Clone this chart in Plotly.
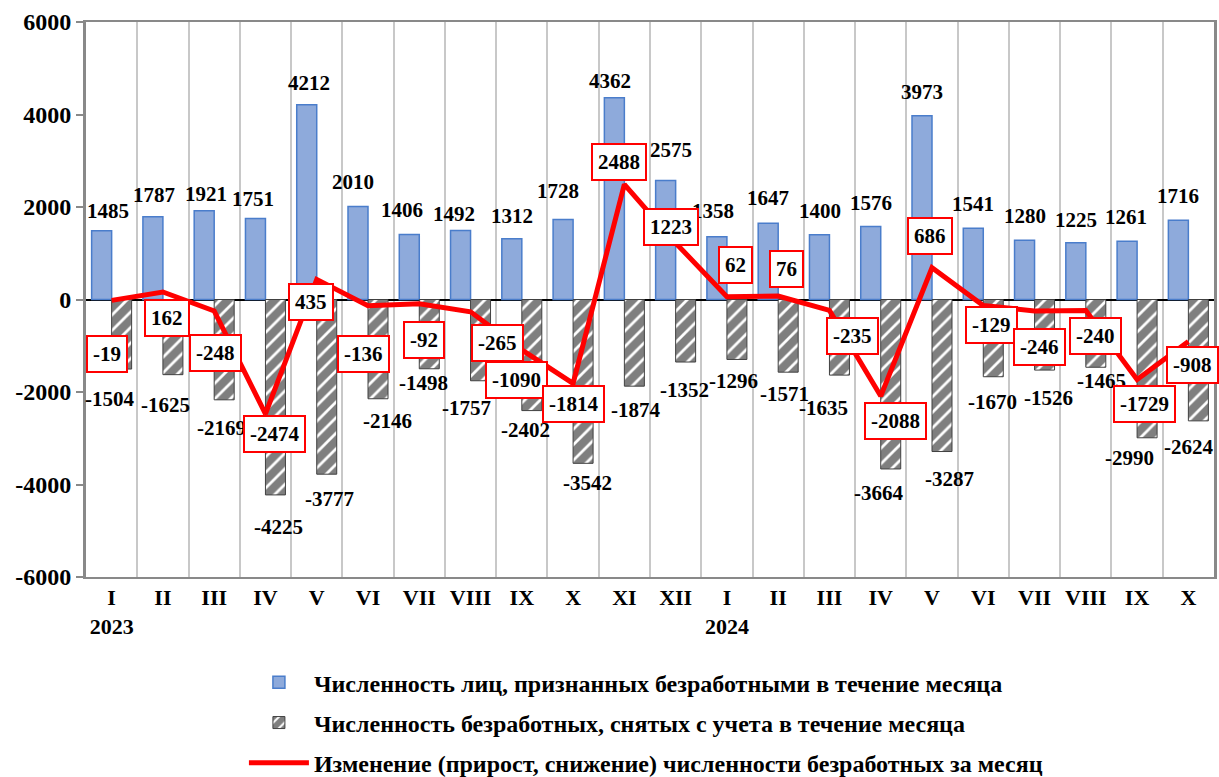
import plotly.graph_objects as go

months = ["I", "II", "III", "IV", "V", "VI", "VII", "VIII", "IX", "X", "XI", "XII",
          "I", "II", "III", "IV", "V", "VI", "VII", "VIII", "IX", "X"]
years = {0: "2023", 12: "2024"}
recognized = [1485, 1787, 1921, 1751, 4212, 2010, 1406, 1492, 1312, 1728, 4362, 2575,
              1358, 1647, 1400, 1576, 3973, 1541, 1280, 1225, 1261, 1716]
removed = [-1504, -1625, -2169, -4225, -3777, -2146, -1498, -1757, -2402, -3542, -1874, -1352,
           -1296, -1571, -1635, -3664, -3287, -1670, -1526, -1465, -2990, -2624]
change = [-19, 162, -248, -2474, 435, -136, -92, -265, -1090, -1814, 2488, 1223,
          62, 76, -235, -2088, 686, -129, -246, -240, -1729, -908]

names = ["Численность лиц, признанных безработными в течение месяца",
         "Численность безработных, снятых с учета в течение месяца",
         "Изменение (прирост, снижение) численности безработных за месяц"]

# label offsets in pixels (xshift, yshift)
rec_off = [(-4, 20), (-9, 22), (-8, 17), (-12, 20), (-8, 22), (-15, 25), (-17, 24), (-17, 17), (-10, 23),
           (-15, 29), (-14, 17), (-5, 30), (-14, 26), (-10, 25), (-9, 24), (-10, 24), (-10, 24),
           (-10, 24), (-10, 24), (-10, 23), (-11, 24), (-10, 24)]
rem_off = [(-2, -30), (3, -30), (7, -28), (13, -32), (13, -25), (19, -22), (4, -14), (-4, -27), (4, -19),
           (14, -20), (11, -24), (9, -28), (7, -22), (6, -22), (-6, -33), (-2, -24), (17, -27),
           (9, -25), (14, -28), (16, -14), (-8, -20), (0, -26)]
chg_off = [(-5, -54), (4, -26), (1, -42), (9, -20), (-6, -23), (-5, -48), (5, -36), (27, -31), (-5, -30),
           (0, -21), (-5, 22), (-5, 16), (9, 32), (8, 27), (23, -26), (15, -25), (-2, 32), (8, -20),
           (5, -36), (10, -25), (7, -25), (4, -23)]

FONT = "Liberation Serif"
x = list(range(len(months)))

fig = go.Figure()
fig.add_trace(go.Bar(
    x=x, y=recognized, name=names[0], legendgroup="a",
    marker=dict(color="#8EAADB", line=dict(color="#4A7DCB", width=1.5)),
))
fig.add_trace(go.Bar(
    x=x, y=removed, name=names[1], legendgroup="b",
    marker=dict(color="white", line=dict(color="#404040", width=1),
                pattern=dict(shape="/", fgcolor="black", bgcolor="white", size=11, solidity=0.75)),
))
fig.add_trace(go.Scatter(
    x=x, y=change, name=names[2], legendgroup="c", mode="lines",
    line=dict(color="#FF0000", width=5),
))

ann = []
for i in x:
    ann.append(dict(x=i, y=recognized[i], text=f"<b>{recognized[i]}</b>", showarrow=False,
                    xshift=rec_off[i][0], yshift=rec_off[i][1],
                    font=dict(family=FONT, size=21, color="black")))
    ann.append(dict(x=i, y=removed[i], text=f"<b>{removed[i]}</b>", showarrow=False,
                    xshift=rem_off[i][0], yshift=rem_off[i][1],
                    font=dict(family=FONT, size=21, color="black")))
for i in x:
    ann.append(dict(x=i, y=change[i], text=f"<b>{change[i]}</b>", showarrow=False,
                    xshift=chg_off[i][0], yshift=chg_off[i][1],
                    bgcolor="white", bordercolor="#FF0000", borderwidth=2, borderpad=5,
                    font=dict(family=FONT, size=21, color="black")))

ticktext = [f"<b>{m}</b>" + (f"<br><b>{years[i]}</b>" if i in years else "") for i, m in enumerate(months)]

fig.update_layout(
    width=1219, height=777,
    margin=dict(l=86, r=5, t=22, b=200, autoexpand=False),
    plot_bgcolor="white", paper_bgcolor="white",
    barmode="group", bargap=0.22, bargroupgap=0,
    font=dict(family=FONT, size=21, color="black"),
    annotations=ann,
    showlegend=True,
    legend=dict(orientation="v", x=0.14, xanchor="left", y=-0.15, yanchor="top",
                font=dict(family=FONT, size=24, color="black"), tracegroupgap=6,
                itemwidth=60),
    xaxis=dict(range=[-0.5, len(months) - 0.5], tickmode="array", tickvals=x, ticktext=ticktext,
               showgrid=False, showline=True, linecolor="#898989", linewidth=2, mirror=True,
               ticks="", tickfont=dict(family=FONT, size=22, color="black"),
               minor=dict(tickmode="linear", tick0=-0.5, dtick=1, showgrid=True,
                          gridcolor="#C8C8C8", gridwidth=1.5),
               zeroline=False),
    yaxis=dict(range=[-6000, 6000], tickvals=[-6000, -4000, -2000, 0, 2000, 4000, 6000],
               ticktext=["<b>-6000</b>", "<b>-4000</b>", "<b>-2000</b>", "<b>0</b>", "<b>2000</b>",
                         "<b>4000</b>", "<b>6000</b>"],
               showgrid=False, showline=True, linecolor="#898989", linewidth=3, mirror=True,
               ticks="outside", ticklen=7, tickcolor="#898989", tickwidth=1.5,
               tickfont=dict(family=FONT, size=24, color="black"),
               zeroline=True, zerolinecolor="black", zerolinewidth=2),
)
for i, n in enumerate(names):
    fig.data[i].name = f"<b>{n}</b>"

fig.write_html("out.html", config={"displayModeBar": False},
               post_script="document.body.style.margin='0';document.body.style.overflow='hidden';")
